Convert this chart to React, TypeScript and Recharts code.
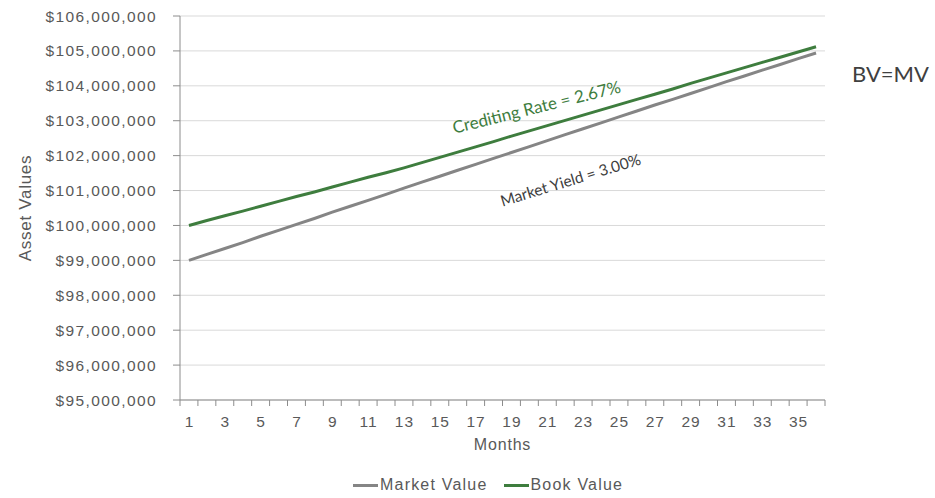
import { LineChart, Line, XAxis, YAxis, CartesianGrid, ReferenceDot, Label } from 'recharts';

const MONTHS = [
  1, 2, 3, 4, 5, 6, 7, 8, 9, 10, 11, 12, 13, 14, 15, 16, 17, 18,
  19, 20, 21, 22, 23, 24, 25, 26, 27, 28, 29, 30, 31, 32, 33, 34, 35, 36,
];

const MARKET_VALUE = [
  99000000, 99170000, 99340000, 99510000, 99690000, 99860000, 100030000, 100200000, 100380000,
  100550000, 100720000, 100890000, 101070000, 101240000, 101410000, 101580000, 101750000, 101920000,
  102090000, 102260000, 102430000, 102600000, 102770000, 102940000, 103110000, 103280000, 103450000,
  103610000, 103780000, 103950000, 104120000, 104280000, 104450000, 104610000, 104780000, 104940000,
];

const BOOK_VALUE = [
  100000000, 100140000, 100280000, 100410000, 100550000, 100690000, 100830000, 100960000, 101100000,
  101240000, 101380000, 101510000, 101650000, 101800000, 101950000, 102100000, 102250000, 102400000,
  102560000, 102710000, 102860000, 103010000, 103160000, 103310000, 103460000, 103610000, 103760000,
  103910000, 104070000, 104220000, 104370000, 104520000, 104670000, 104820000, 104970000, 105120000,
];

const Y_TICKS = [
  95000000, 96000000, 97000000, 98000000, 99000000, 100000000,
  101000000, 102000000, 103000000, 104000000, 105000000, 106000000,
];

const GREEN = '#3E7D3E';
const GREY = '#858585';
const AXIS = '#8C8C8C';
const TEXT = '#595959';
const FONT = '"Liberation Sans", Arial, sans-serif';
const NOTE_FONT = 'Lato, "Open Sans", sans-serif';

const data = MONTHS.map((m, i) => ({
  month: m,
  market: MARKET_VALUE[i],
  book: BOOK_VALUE[i],
}));

// tick marks sit on the month boundaries, labels on every other month
const xTicks = [0.5, ...MONTHS.flatMap((m) => [m, m + 0.5])];

const fmtDollar = (v: number) => `$${v.toLocaleString('en-US')}`;

const MonthTick = ({ x, y, payload }: any) => {
  const v = payload.value as number;
  if (!Number.isInteger(v)) {
    return <line x1={x} x2={x} y1={y - 16} y2={y - 10} stroke={AXIS} strokeWidth={1} />;
  }
  if (v % 2 === 0) return <g />;
  return (
    <text
      x={x + 0.5}
      y={y}
      dy="0.71em"
      textAnchor="middle"
      fill={TEXT}
      fontSize={15.5}
      fontFamily={FONT}
      letterSpacing={1}
    >
      {v}
    </text>
  );
};

export default function App() {
  return (
    <div style={{ position: 'absolute', left: 0, top: 0, width: 935, height: 498, background: '#fff' }}>
      <LineChart
        width={935}
        height={498}
        data={data}
        margin={{ top: 16, right: 110, bottom: 44, left: 20 }}
      >
        <CartesianGrid vertical={false} stroke="#D9D9D9" strokeWidth={1} />
        <XAxis
          dataKey="month"
          type="number"
          domain={[0.5, 36.5]}
          ticks={xTicks}
          interval={0}
          height={54}
          tick={<MonthTick />}
          tickLine={false}
          tickSize={6}
          tickMargin={10}
          axisLine={{ stroke: AXIS }}
        >
          <Label
            value="Months"
            position="insideBottom"
            offset={4}
            fill={TEXT}
            fontSize={16}
            fontFamily={FONT}
            letterSpacing={0.8}
          />
        </XAxis>
        <YAxis
          type="number"
          domain={[95000000, 106000000]}
          ticks={Y_TICKS}
          interval={0}
          width={160}
          tickFormatter={fmtDollar}
          tick={{ fill: TEXT, fontSize: 15.5, fontFamily: FONT, letterSpacing: 1.4 }}
          tickSize={7}
          tickMargin={16}
          tickLine={{ stroke: AXIS }}
          axisLine={{ stroke: AXIS }}
        >
          <Label
            value="Asset Values"
            angle={-90}
            position="insideLeft"
            offset={5}
            fill={TEXT}
            fontSize={17}
            fontFamily={FONT}
            letterSpacing={0.7}
            style={{ textAnchor: 'middle' }}
          />
        </YAxis>
        <Line
          dataKey="market"
          name="Market Value"
          stroke={GREY}
          strokeWidth={3}
          dot={false}
          type="linear"
          isAnimationActive={false}
        />
        <Line
          dataKey="book"
          name="Book Value"
          stroke={GREEN}
          strokeWidth={3}
          dot={false}
          type="linear"
          isAnimationActive={false}
        />
        <ReferenceDot x={20.4} y={103390000} r={0} stroke="none" fill="none">
          <Label
            value="Crediting Rate = 2.67%"
            position="center"
            angle={-14}
            fill={GREEN}
            fontSize={17}
            fontFamily={NOTE_FONT}
          />
        </ReferenceDot>
        <ReferenceDot x={22.3} y={101300000} r={0} stroke="none" fill="none">
          <Label
            value="Market Yield = 3.00%"
            position="center"
            angle={-17}
            fill="#404040"
            fontSize={15.5}
            fontFamily={NOTE_FONT}
          />
        </ReferenceDot>
      </LineChart>

      <div
        style={{
          position: 'absolute',
          left: 852,
          top: 60,
          fontFamily: NOTE_FONT,
          fontSize: 22,
          color: '#404040',
        }}
      >
        BV=MV
      </div>

      <div
        style={{
          position: 'absolute',
          left: 353,
          top: 476,
          display: 'flex',
          alignItems: 'center',
          fontFamily: FONT,
          fontSize: 16,
          letterSpacing: 1.2,
          color: TEXT,
        }}
      >
        <span style={{ display: 'inline-block', width: 25, height: 3, background: GREY, marginRight: 2 }} />
        <span style={{ marginRight: 17 }}>Market Value</span>
        <span style={{ display: 'inline-block', width: 25, height: 3, background: GREEN, marginRight: 1 }} />
        <span>Book Value</span>
      </div>
    </div>
  );
}
